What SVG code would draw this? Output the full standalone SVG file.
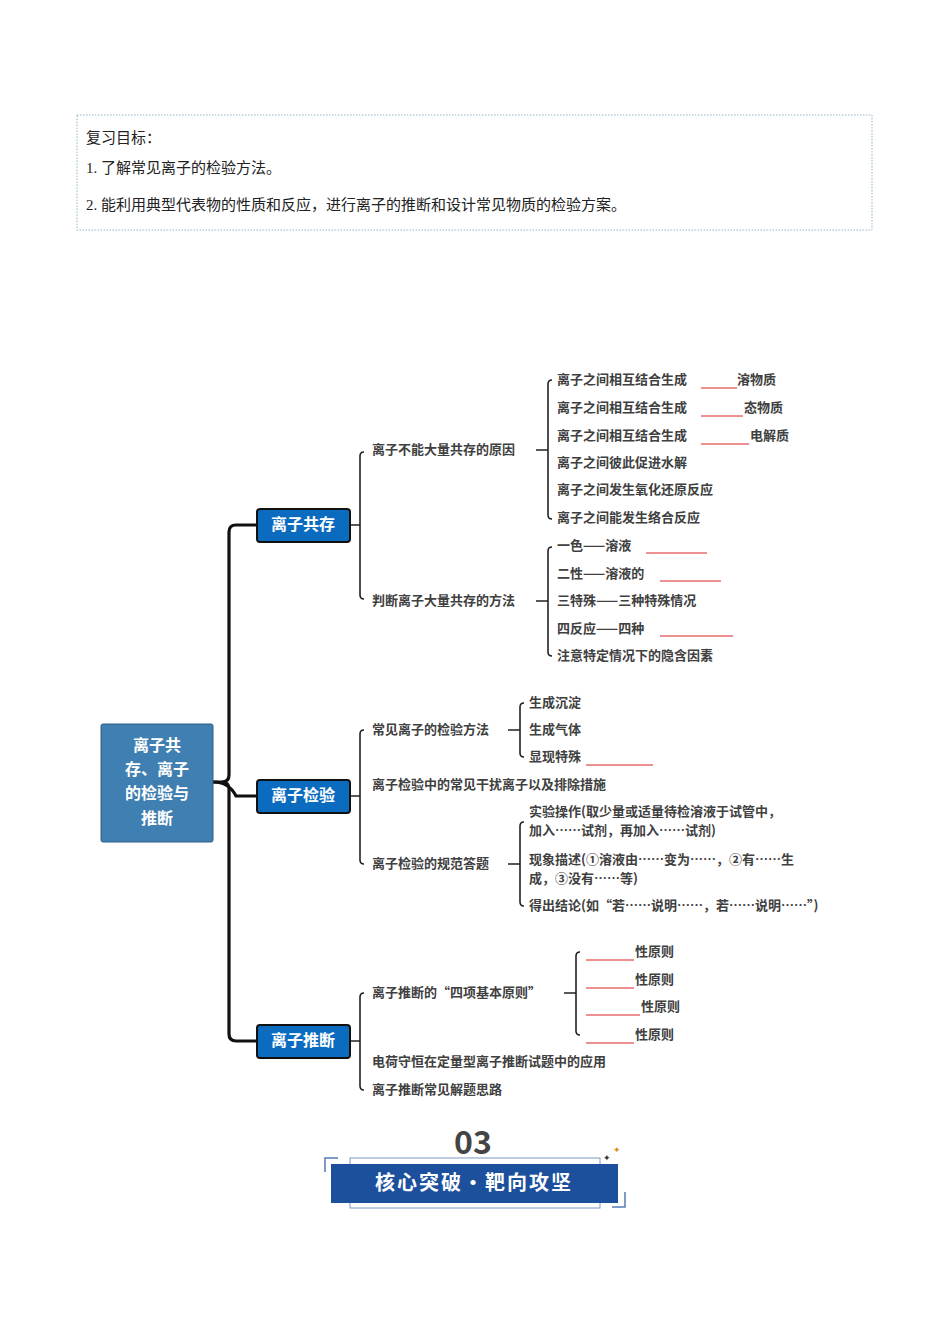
<svg xmlns="http://www.w3.org/2000/svg" width="950" height="1344" viewBox="0 0 950 1344">
<style>
text{font-family:"Noto Sans CJK SC","Liberation Sans",sans-serif}
.lf{font-size:13px;font-weight:bold;fill:#404040;dominant-baseline:middle}
.ser{font-family:"Liberation Serif","Noto Sans CJK SC",serif;font-size:15px;fill:#222}
.ln{fill:none;stroke:#222;stroke-width:1.6}
.tr{fill:none;stroke:#111;stroke-width:3.2}
.bl{stroke:#d22;stroke-width:1}
.l1{fill:#0b6cbf;stroke:#111;stroke-width:2}
.l1t{font-size:16px;font-weight:bold;fill:#fff;text-anchor:middle;dominant-baseline:middle}
</style>
<rect x="0" y="0" width="950" height="1344" fill="#fff"/>
<g id="goals">
<rect x="77" y="115" width="795" height="115" fill="none" stroke="#8fb4c8" stroke-dasharray="1.5 1.5"/>
<text x="86" y="139" font-size="15" fill="#222" dominant-baseline="middle">复习目标：</text>
<text class="ser" x="86" y="170" dominant-baseline="middle">1.   了解常见离子的检验方法。</text>
<text class="ser" x="86" y="207" dominant-baseline="middle">2.   能利用典型代表物的性质和反应，进行离子的推断和设计常见物质的检验方案。</text>
</g>
<g id="connectors">
<path class="tr" d="M213 782 H222 Q229 782 229 775 V532 Q229 525 236 525 H257"/>
<path class="tr" d="M222 782 Q229 782 229 789 V1034 Q229 1041 236 1041 H257"/>
<path class="tr" d="M213 782 Q229 782 236 796 H257"/>
<path class="ln" d="M350 525 H360 M364 452 Q360 452 360 456 V595 Q360 599 364 599"/>
<path class="ln" d="M350 796 H360 M364 730 Q360 730 360 734 V860 Q360 864 364 864"/>
<path class="ln" d="M350 1041 H360 M364 993 Q360 993 360 997 V1086 Q360 1090 364 1090"/>
<path class="ln" d="M536 450 H548 M552 380 Q548 380 548 384 V515 Q548 519 552 519"/>
<path class="ln" d="M536 601 H548 M552 547 Q548 547 548 551 V652 Q548 656 552 656"/>
<path class="ln" d="M508 730 H520 M524 703 Q520 703 520 707 V753 Q520 757 524 757"/>
<path class="ln" d="M508 864 H520 M524 822 Q520 822 520 826 V902 Q520 906 524 906"/>
<path class="ln" d="M564 993 H576 M580 952 Q576 952 576 956 V1031 Q576 1035 580 1035"/>
</g>
<g id="root">
<rect x="101" y="724" width="112" height="118" rx="2" fill="#3f7fb1" stroke="#2f5f88"/>
<text x="157" y="747" class="l1t" font-size="17">离子共</text>
<text x="157" y="771" class="l1t" font-size="17">存、离子</text>
<text x="157" y="795" class="l1t" font-size="17">的检验与</text>
<text x="157" y="820" class="l1t" font-size="17">推断</text>
</g>
<g id="n1"><rect class="l1" x="257" y="509" width="93" height="33" rx="3"/><text class="l1t" x="303" y="526">离子共存</text></g>
<g id="n2"><rect class="l1" x="257" y="780" width="93" height="33" rx="3"/><text class="l1t" x="303" y="797">离子检验</text></g>
<g id="n3"><rect class="l1" x="257" y="1025" width="93" height="33" rx="3"/><text class="l1t" x="303" y="1042">离子推断</text></g>
<g id="gongcun-leaves">
<text class="lf" x="372" y="450">离子不能大量共存的原因</text>
<text class="lf" x="372" y="601">判断离子大量共存的方法</text>
<text class="lf" x="557" y="380">离子之间相互结合生成</text><line class="bl" x1="701" y1="388" x2="737" y2="388"/><text class="lf" x="737" y="380">溶物质</text>
<text class="lf" x="557" y="408">离子之间相互结合生成</text><line class="bl" x1="701" y1="416" x2="743" y2="416"/><text class="lf" x="744" y="408">态物质</text>
<text class="lf" x="557" y="436">离子之间相互结合生成</text><line class="bl" x1="701" y1="444" x2="749" y2="444"/><text class="lf" x="750" y="436">电解质</text>
<text class="lf" x="557" y="463">离子之间彼此促进水解</text>
<text class="lf" x="557" y="490">离子之间发生氧化还原反应</text>
<text class="lf" x="557" y="518">离子之间能发生络合反应</text>
<text class="lf" x="557" y="546">一色——溶液</text><line class="bl" x1="646" y1="553" x2="707" y2="553"/>
<text class="lf" x="557" y="574">二性——溶液的</text><line class="bl" x1="660" y1="581" x2="721" y2="581"/>
<text class="lf" x="557" y="601">三特殊——三种特殊情况</text>
<text class="lf" x="557" y="629">四反应——四种</text><line class="bl" x1="660" y1="636" x2="733" y2="636"/>
<text class="lf" x="557" y="656">注意特定情况下的隐含因素</text>
</g>
<g id="jianyan-leaves">
<text class="lf" x="372" y="730">常见离子的检验方法</text>
<text class="lf" x="372" y="785">离子检验中的常见干扰离子以及排除措施</text>
<text class="lf" x="372" y="864">离子检验的规范答题</text>
<text class="lf" x="529" y="703">生成沉淀</text>
<text class="lf" x="529" y="730">生成气体</text>
<text class="lf" x="529" y="757">显现特殊</text><line class="bl" x1="586" y1="765" x2="653" y2="765"/>
<text class="lf" x="529" y="812">实验操作(取少量或适量待检溶液于试管中，</text>
<text class="lf" x="529" y="831">加入……试剂，再加入……试剂)</text>
<text class="lf" x="529" y="860">现象描述(①溶液由……变为……，②有……生</text>
<text class="lf" x="529" y="879">成，③没有……等)</text>
<text class="lf" x="529" y="906">得出结论(如“若……说明……，若……说明……”)</text>
</g>
<g id="tuiduan-leaves">
<text class="lf" x="372" y="993">离子推断的“四项基本原则”</text>
<text class="lf" x="372" y="1062">电荷守恒在定量型离子推断试题中的应用</text>
<text class="lf" x="372" y="1090">离子推断常见解题思路</text>
<line class="bl" x1="586" y1="960" x2="634" y2="960"/><text class="lf" x="635" y="952">性原则</text>
<line class="bl" x1="586" y1="988" x2="634" y2="988"/><text class="lf" x="635" y="980">性原则</text>
<line class="bl" x1="586" y1="1015" x2="640" y2="1015"/><text class="lf" x="641" y="1007">性原则</text>
<line class="bl" x1="586" y1="1043" x2="634" y2="1043"/><text class="lf" x="635" y="1035">性原则</text>
</g>
<g id="banner">
<text x="473" y="1145" font-size="32" font-weight="bold" fill="#444" text-anchor="middle" dominant-baseline="middle" font-family="Liberation Sans,sans-serif">03</text>
<rect x="350" y="1158" width="250" height="50" fill="none" stroke="#7a96c8"/>
<rect x="331" y="1164" width="287" height="39" fill="#1c4f9c"/>
<text x="474" y="1185" font-size="20" font-weight="bold" fill="#fff" text-anchor="middle" dominant-baseline="middle" letter-spacing="2">核心突破・靶向攻坚</text>
<path d="M338 1158 H325 V1172" fill="none" stroke="#5578b8" stroke-width="1.5"/>
<path d="M612 1207 H625 V1192" fill="none" stroke="#5578b8" stroke-width="1.5"/>
<text x="607" y="1159" font-size="9" fill="#333" text-anchor="middle" dominant-baseline="middle">✦</text>
<text x="617" y="1151" font-size="9" fill="#e08a20" text-anchor="middle" dominant-baseline="middle">✦</text>
</g>
</svg>
